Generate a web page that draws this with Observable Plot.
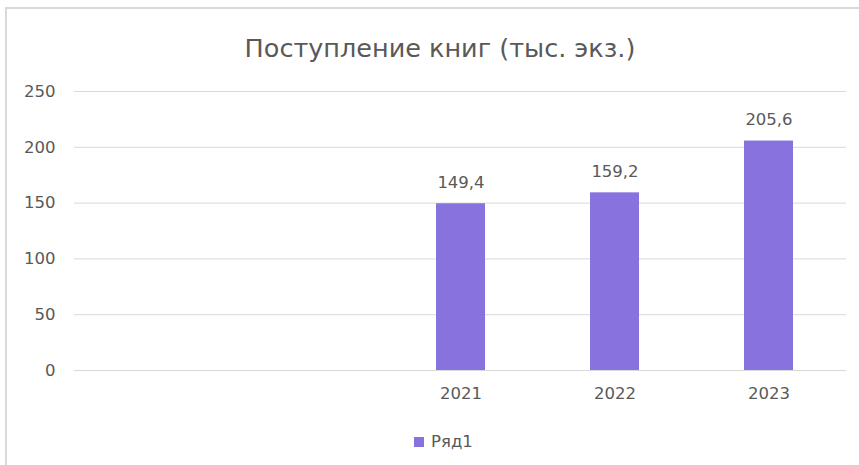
<!DOCTYPE html>
<html>
<head>
<meta charset="utf-8">
<script src="https://cdn.jsdelivr.net/npm/d3@7"></script>
<script src="https://cdn.jsdelivr.net/npm/@observablehq/plot@0.6"></script>
<style>
  html, body { margin: 0; padding: 0; background: #fff; }
  body { width: 859px; height: 465px; position: relative; overflow: hidden; font-family: "DejaVu Sans", sans-serif; }
  #frame { position: absolute; left: 5px; top: 7px; width: 900px; height: 500px; border-left: 2px solid #d9d9d9; border-top: 2px solid #d9d9d9; box-sizing: border-box; }
  #title { position: absolute; left: 0; width: 880px; top: 30px; text-align: center; font-size: 25.5px; color: #595959; line-height: 36px; }
  #chart { position: absolute; left: 0; top: 70px; }
  #legend { position: absolute; left: 414px; top: 432px; font-size: 16.5px; color: #595959; display: flex; align-items: center; line-height: 20px; }
  #legend .sw { width: 10px; height: 10px; background: #8872DE; margin-right: 7px; }
</style>
</head>
<body>
<div id="frame"></div>
<div id="title">Поступление книг (тыс. экз.)</div>
<div id="chart"></div>
<div id="legend"><span class="sw"></span><span>Ряд1</span></div>
<script>
const categories = ["", " ", "2021", "2022", "2023"];
const values = [null, null, 149.4, 159.2, 205.6];
const yTicks = [0, 50, 100, 150, 200, 250];
const seriesName = "Ряд1";

const data = categories.map((c, i) => ({cat: c, v: values[i]}));
const filled = data.filter(d => d.v != null);

const chart = Plot.plot({
  width: 859,
  height: 345,
  marginLeft: 74,
  marginRight: 13,
  marginTop: 21,
  marginBottom: 45,
  style: {fontFamily: "DejaVu Sans, sans-serif", fontSize: "16.5px", color: "#595959", background: "transparent"},
  x: {domain: categories, paddingInner: 0.683, paddingOuter: 0.3415, label: null},
  y: {domain: [0, 250], label: null},
  marks: [
    Plot.gridY(yTicks, {stroke: "#d9d9d9", strokeOpacity: 1}),
    Plot.axisY({ticks: yTicks, tickSize: 0, tickPadding: 19, label: null, fill: "#595959"}),
    Plot.axisX({tickSize: 0, tickPadding: 17, label: null, fill: "#595959"}),
    Plot.barY(filled, {x: "cat", y: "v", fill: "#8872DE"}),
    Plot.text(filled, {x: "cat", y: "v", text: d => String(d.v).replace(".", ","), dy: -21, fill: "#595959", fontSize: 16.5})
  ]
});
document.getElementById("chart").appendChild(chart);
</script>
</body>
</html>
